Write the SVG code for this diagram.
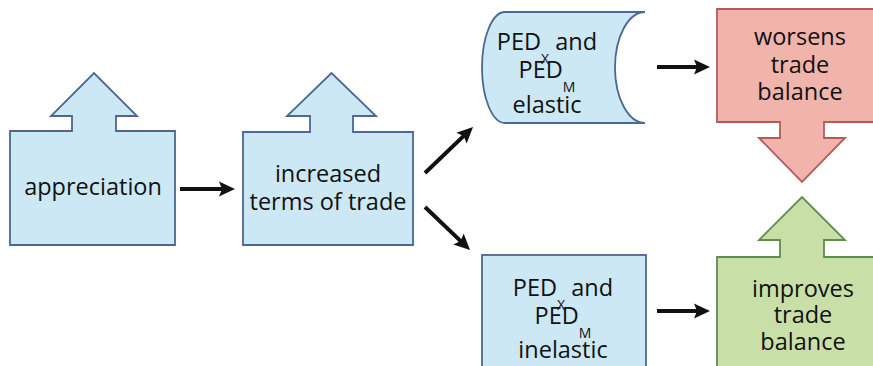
<svg xmlns="http://www.w3.org/2000/svg" width="873" height="366" viewBox="0 0 873 366">
<style>
.blue{fill:#cbe8f4;stroke:#4a6796;stroke-width:1.8}
.red{fill:#f1b4ab;stroke:#b55a5c;stroke-width:1.8}
.green{fill:#c8e0a8;stroke:#5f8d4e;stroke-width:1.8}
text{font-family:"Open Sans","Liberation Sans",sans-serif;font-size:23.5px;fill:#111;text-anchor:middle}
.sub{font-size:14px}
.conn line{stroke:#111;stroke-width:4;fill:none}
</style>
<defs>
<marker id="ah" markerUnits="userSpaceOnUse" markerWidth="20" markerHeight="18" viewBox="0 -9 18 18" refX="6" refY="0" orient="auto">
<path d="M0,-7.5 L16,0 L0,7.5 L3,0 Z" fill="#111"/>
</marker>
</defs>
<rect width="873" height="366" fill="#ffffff"/>
<g id="appreciation">
<polygon class="blue" points="10,131 72,131 72,116 51,116 94,73 137,116 116,116 116,131 175,131 175,245 10,245"/>
<text x="93" y="195">appreciation</text>
</g>
<g id="increased">
<polygon class="blue" points="243,132 310,132 310,116 287,116 331.5,73 376,116 353,116 353,132 413,132 413,245 243,245"/>
<text x="328" y="182">increased</text>
<text x="328" y="210">terms of trade</text>
</g>
<g id="elastic">
<path class="blue" d="M645,12 L505,12 A23,55.5 0 0 0 505,123 L645,123 A30,55.5 0 0 1 645,12 Z"/>
<text x="547" y="50">PED<tspan class="sub" dy="14">X</tspan><tspan dy="-14"> and</tspan></text>
<text x="547" y="78">PED<tspan class="sub" dy="14">M</tspan></text>
<text x="547" y="113">elastic</text>
</g>
<g id="inelastic">
<rect class="blue" x="482" y="255" width="164" height="130"/>
<text x="563" y="296">PED<tspan class="sub" dy="14">X</tspan><tspan dy="-14"> and</tspan></text>
<text x="563" y="324">PED<tspan class="sub" dy="14">M</tspan></text>
<text x="563" y="358">inelastic</text>
</g>
<g id="worsens">
<polygon class="red" points="717,9 890,9 890,122 824,122 824,138 845,138 802,182 759,138 780,138 780,122 717,122"/>
<text x="800" y="45">worsens</text>
<text x="800" y="73">trade</text>
<text x="800" y="100">balance</text>
</g>
<g id="improves">
<polygon class="green" points="717,257 780,257 780,240 759,240 802,197 845,240 824,240 824,257 890,257 890,390 717,390"/>
<text x="803" y="297">improves</text>
<text x="803" y="323">trade</text>
<text x="803" y="350">balance</text>
</g>
<g id="connectors" class="conn">
<line x1="180" y1="189" x2="225" y2="189" marker-end="url(#ah)"/>
<line x1="425" y1="173" x2="465.8" y2="133.9" marker-end="url(#ah)"/>
<line x1="425" y1="207" x2="462.8" y2="243.1" marker-end="url(#ah)"/>
<line x1="657" y1="67" x2="700" y2="67" marker-end="url(#ah)"/>
<line x1="657" y1="311" x2="700" y2="311" marker-end="url(#ah)"/>
</g>
</svg>
